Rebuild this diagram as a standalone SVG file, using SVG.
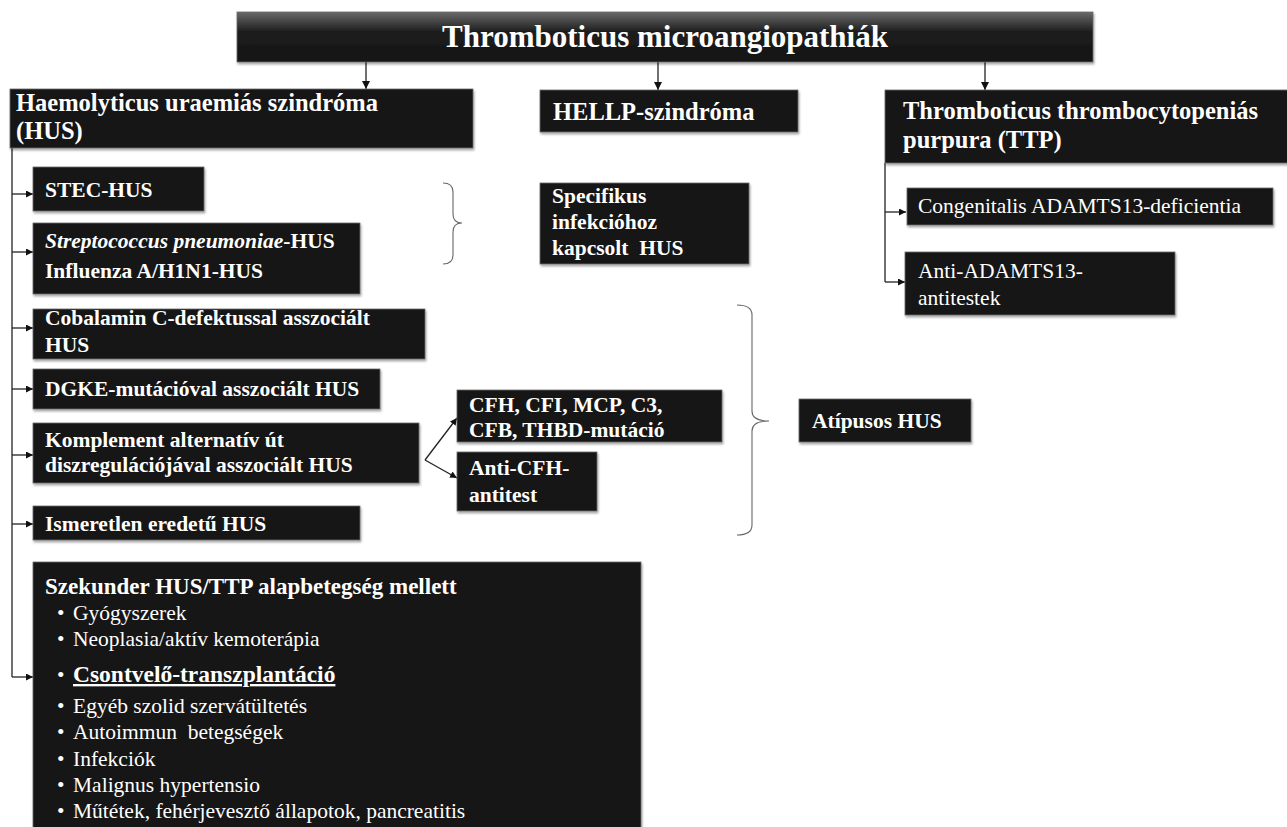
<svg xmlns="http://www.w3.org/2000/svg" width="1287" height="827" viewBox="0 0 1287 827">
<defs>
<style>
.box{fill:#191919;stroke:#6a6a6a;stroke-width:0.8;filter:url(#sh)}
.t{font-family:"Liberation Serif","Times New Roman",serif;fill:#fff}
.b{font-weight:bold}
.h{font-size:24.5px}
.m{font-size:21.5px}
.ln{stroke:#222;stroke-width:1.3;fill:none}
.br{stroke:#666;stroke-width:1.1;fill:none}
</style>
<filter id="sh" x="-5%" y="-10%" width="110%" height="130%">
<feDropShadow dx="1" dy="2" stdDeviation="1.2" flood-color="#000" flood-opacity="0.35"/>
</filter>
<linearGradient id="tg" x1="0" y1="0" x2="0" y2="1">
<stop offset="0" stop-color="#6a6a6a"/>
<stop offset="0.4" stop-color="#1c1c1c"/>
<stop offset="1" stop-color="#161616"/>
</linearGradient>
<marker id="ah" markerWidth="10" markerHeight="10" refX="8" refY="4" orient="auto" markerUnits="userSpaceOnUse">
<path d="M0,0 L8,4 L0,8 Z" fill="#111"/>
</marker>
<marker id="as" markerWidth="9" markerHeight="8" refX="7" refY="3.5" orient="auto" markerUnits="userSpaceOnUse">
<path d="M0,0 L7,3.5 L0,7 Z" fill="#111"/>
</marker>
</defs>
<rect width="1287" height="827" fill="#fff"/>

<g id="connectors">
<line class="ln" x1="366" y1="62" x2="366" y2="89" marker-end="url(#ah)"/>
<line class="ln" x1="658" y1="62" x2="658" y2="90" marker-end="url(#ah)"/>
<line class="ln" x1="985" y1="62" x2="985" y2="90" marker-end="url(#ah)"/>
<line class="ln" x1="12" y1="148" x2="12" y2="677"/>
<line class="ln" x1="12" y1="194" x2="33" y2="194" marker-end="url(#as)"/>
<line class="ln" x1="12" y1="252" x2="33" y2="252" marker-end="url(#as)"/>
<line class="ln" x1="12" y1="328" x2="33" y2="328" marker-end="url(#as)"/>
<line class="ln" x1="12" y1="389" x2="33" y2="389" marker-end="url(#as)"/>
<line class="ln" x1="12" y1="455" x2="33" y2="455" marker-end="url(#as)"/>
<line class="ln" x1="12" y1="524" x2="33" y2="524" marker-end="url(#as)"/>
<line class="ln" x1="12" y1="677" x2="33" y2="677" marker-end="url(#as)"/>
<line class="ln" x1="885" y1="163" x2="885" y2="282"/>
<line class="ln" x1="885" y1="212" x2="906" y2="212" marker-end="url(#as)"/>
<line class="ln" x1="885" y1="282" x2="905" y2="282" marker-end="url(#as)"/>
<line class="ln" x1="425" y1="460" x2="457" y2="418" marker-end="url(#as)"/>
<line class="ln" x1="425" y1="460" x2="457" y2="478" marker-end="url(#as)"/>
<path class="br" d="M443,183 Q453,183 453,192 L453,214 Q453,223 462,223 Q453,223 453,232 L453,255 Q453,264 443,264"/>
<path class="br" d="M737,305 Q752,305 752,315 L752,411 Q752,421 769,421 Q752,421 752,431 L752,525 Q752,535 737,535"/>
</g>

<g id="title">
<rect x="237" y="12" width="856" height="50" fill="url(#tg)" stroke="#6a6a6a" stroke-width="0.8" filter="url(#sh)"/>
<text class="t b" x="665" y="47" font-size="31" text-anchor="middle">Thromboticus microangiopathiák</text>
</g>

<g id="hus">
<rect class="box" x="10" y="89" width="463" height="59"/>
<text class="t b h" x="16" y="111">Haemolyticus uraemiás szindróma</text>
<text class="t b h" x="16" y="139">(HUS)</text>
</g>

<g id="hellp">
<rect class="box" x="540" y="90" width="258" height="42"/>
<text class="t b h" x="553" y="120">HELLP-szindróma</text>
</g>

<g id="ttp">
<rect class="box" x="885" y="90" width="404" height="73"/>
<text class="t b h" x="903" y="119">Thromboticus thrombocytopeniás</text>
<text class="t b h" x="903" y="148">purpura (TTP)</text>
</g>

<g id="stec">
<rect class="box" x="33" y="167" width="171" height="44"/>
<text class="t b m" x="45" y="197">STEC-HUS</text>
</g>

<g id="strep">
<rect class="box" x="33" y="223" width="327" height="71"/>
<text class="t b m" x="45" y="248"><tspan font-style="italic">Streptococcus pneumoniae</tspan>-HUS</text>
<text class="t b m" x="45" y="278">Influenza A/H1N1-HUS</text>
</g>

<g id="specifikus">
<rect class="box" x="540" y="183" width="209" height="81"/>
<text class="t b m" x="552" y="203">Specifikus</text>
<text class="t b m" x="552" y="229">infekcióhoz</text>
<text class="t b m" x="552" y="255" xml:space="preserve">kapcsolt  HUS</text>
</g>

<g id="congenitalis">
<rect class="box" x="907" y="188" width="366" height="37"/>
<text class="t m" x="918" y="213">Congenitalis ADAMTS13-deficientia</text>
</g>

<g id="anti-adamts13">
<rect class="box" x="905" y="252" width="270" height="63"/>
<text class="t m" x="918" y="278">Anti-ADAMTS13-</text>
<text class="t m" x="918" y="305">antitestek</text>
</g>

<g id="cobalamin">
<rect class="box" x="33" y="309" width="392" height="50"/>
<text class="t b m" x="45" y="325">Cobalamin C-defektussal asszociált</text>
<text class="t b m" x="45" y="352">HUS</text>
</g>

<g id="dgke">
<rect class="box" x="33" y="369" width="347" height="40"/>
<text class="t b m" x="45" y="396">DGKE-mutációval asszociált HUS</text>
</g>

<g id="komplement">
<rect class="box" x="33" y="423" width="386" height="60"/>
<text class="t b m" x="45" y="447">Komplement alternatív út</text>
<text class="t b m" x="45" y="472">diszregulációjával asszociált HUS</text>
</g>

<g id="cfh">
<rect class="box" x="457" y="390" width="265" height="52"/>
<text class="t b m" x="469" y="412">CFH, CFI, MCP, C3,</text>
<text class="t b m" x="469" y="437">CFB, THBD-mutáció</text>
</g>

<g id="anti-cfh">
<rect class="box" x="457" y="452" width="140" height="59"/>
<text class="t b m" x="469" y="475">Anti-CFH-</text>
<text class="t b m" x="469" y="502">antitest</text>
</g>

<g id="atipusos">
<rect class="box" x="799" y="399" width="172" height="43"/>
<text class="t b m" x="812" y="428">Atípusos HUS</text>
</g>

<g id="ismeretlen">
<rect class="box" x="33" y="506" width="327" height="34"/>
<text class="t b m" x="45" y="531">Ismeretlen eredetű HUS</text>
</g>

<g id="szekunder">
<rect class="box" x="33" y="562" width="608" height="270"/>
<text class="t b" x="45" y="594" font-size="23">Szekunder HUS/TTP alapbetegség mellett</text>
<text class="t m"><tspan x="57" y="620">•</tspan><tspan x="73" y="620">Gyógyszerek</tspan></text>
<text class="t m"><tspan x="57" y="646">•</tspan><tspan x="73" y="646">Neoplasia/aktív kemoterápia</tspan></text>
<text class="t" font-size="23.5"><tspan x="57" y="682" font-size="21.5">•</tspan><tspan x="73" y="682" font-weight="bold" text-decoration="underline">Csontvelő-transzplantáció</tspan></text>
<text class="t m"><tspan x="57" y="713">•</tspan><tspan x="73" y="713">Egyéb szolid szervátültetés</tspan></text>
<text class="t m" xml:space="preserve"><tspan x="57" y="739">•</tspan><tspan x="73" y="739">Autoimmun  betegségek</tspan></text>
<text class="t m"><tspan x="57" y="766">•</tspan><tspan x="73" y="766">Infekciók</tspan></text>
<text class="t m"><tspan x="57" y="792">•</tspan><tspan x="73" y="792">Malignus hypertensio</tspan></text>
<text class="t m"><tspan x="57" y="818">•</tspan><tspan x="73" y="818">Műtétek, fehérjevesztő állapotok, pancreatitis</tspan></text>
</g>
</svg>
